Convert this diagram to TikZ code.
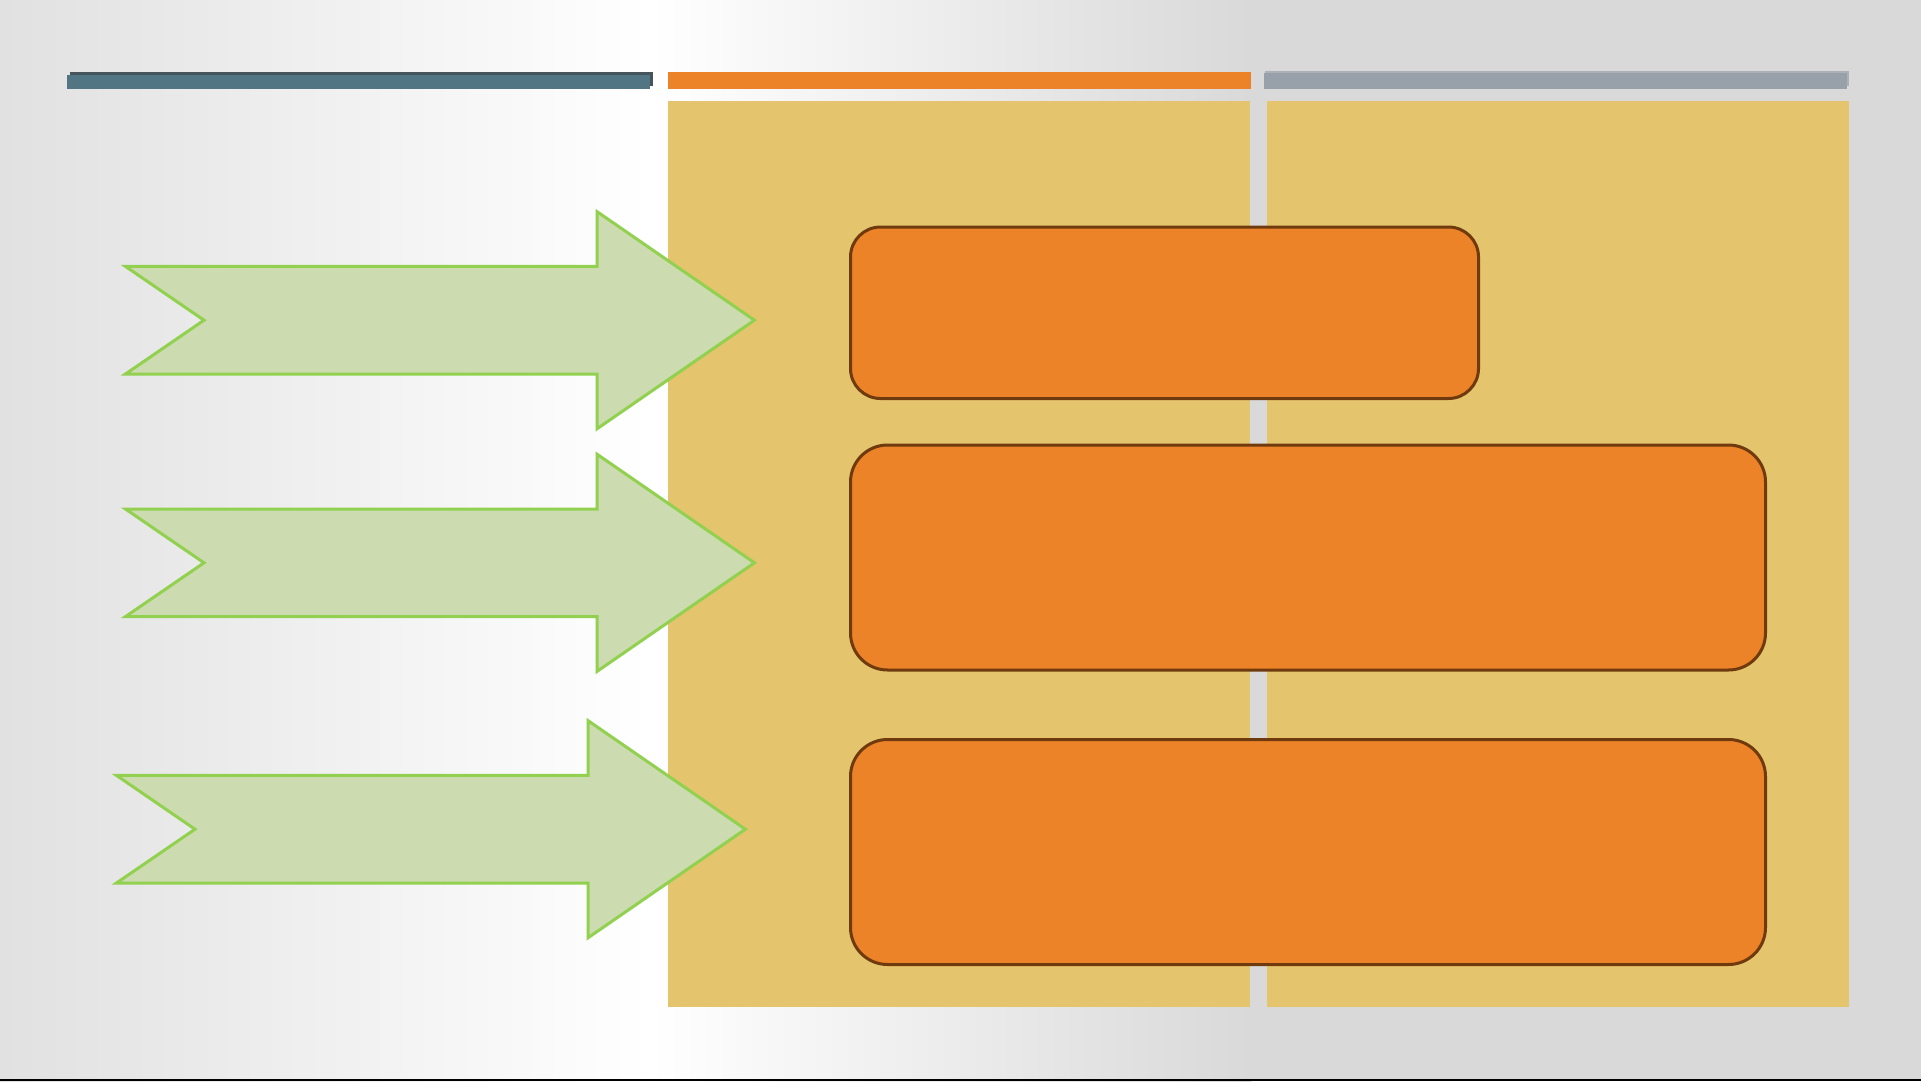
\documentclass[tikz,border=0pt]{standalone}
\usepackage{tikz}
\usetikzlibrary{positioning}
\definecolor{bgleft}{RGB}{225,225,225}
\definecolor{bgright}{RGB}{217,217,217}
\definecolor{barteal}{RGB}{82,117,132}
\definecolor{bartealdark}{RGB}{70,84,92}
\definecolor{barorange}{RGB}{237,131,41}
\definecolor{bargray}{RGB}{152,160,169}
\definecolor{bargraylight}{RGB}{172,177,184}
\definecolor{panelyellow}{RGB}{229,196,110}
\definecolor{boxorange}{RGB}{236,131,40}
\definecolor{boxbrown}{RGB}{110,58,14}
\definecolor{arrowfill}{RGB}{204,220,176}
\definecolor{arrowline}{RGB}{146,208,80}
\tikzstyle{panel} = [rectangle, fill=panelyellow, inner sep=0pt, outer sep=0pt, anchor=north west, minimum width=58.2mm, minimum height=90.55mm]
\tikzstyle{phase} = [rectangle, rounded corners=3.7mm, draw=boxbrown, fill=boxorange, line width=0.3mm, inner sep=0pt, outer sep=0pt, minimum width=91.5mm, minimum height=22.5mm, anchor=north west]
\tikzstyle{notch} = [draw=arrowline, fill=arrowfill, line width=0.3mm, line join=miter]

\begin{document}
\begin{tikzpicture}[x=0.1mm, y=-0.1mm]
\useasboundingbox (0,0) rectangle (1921,1081);
% background
\shade[left color=bgleft, right color=white] (0,0) rectangle (651,1081);
\shade[left color=white, right color=bgright] (650,0) rectangle (1251,1081);
\fill[bgright] (1250,0) rectangle (1921,1081);
\draw[line width=0.2mm, black] (0,1080) -- (1921,1080);
% header bars
\fill[bartealdark] (69.5,72) rectangle (653,86);
\fill[barteal] (67,75.3) rectangle (650,88.7);
\fill[barorange] (667.5,72) rectangle (1251,88.7);
\fill[bargraylight] (1265,71) rectangle (1848.5,86);
\fill[bargray] (1264,73) rectangle (1847,88.7);
% panels
\node (panelA) [panel] at (668,101) {};
\node (panelB) [panel, right=1.65mm of panelA.north east, anchor=north west] {};
% arrows
\foreach \dx/\y in {0/320.2, 0/562.8, -9/829.2}
{
  \begin{scope}[shift={(\dx,\y)}]
  \draw[notch] (125.5,-53.8) -- (597,-53.8) -- (597,-108.6) -- (754.4,0)
    -- (597,108.6) -- (597,53.8) -- (125.5,53.8) -- (204,0) -- cycle;
  \end{scope}
}
% boxes
\node (box1) [phase, rounded corners=3mm, minimum width=62.8mm, minimum height=17.15mm] at (850.5,227) {};
\node (box2) [phase, below=4.65mm of box1.south west, anchor=north west] {};
\node (box3) [phase, below=6.95mm of box2.south west, anchor=north west] {};
\end{tikzpicture}
\end{document}
